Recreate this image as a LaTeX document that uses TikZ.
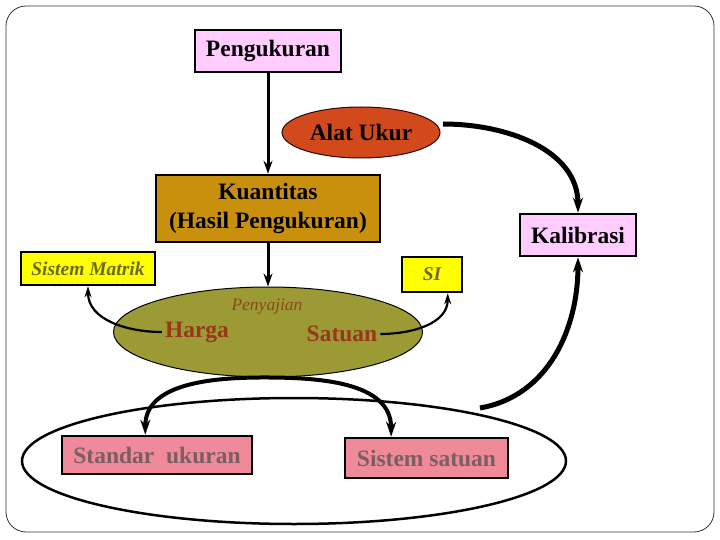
\documentclass[tikz,border=0pt]{standalone}
\usepackage{fontspec}
\setmainfont{Liberation Serif}
\usetikzlibrary{arrows.meta, shapes.geometric}

\definecolor{rosa}{HTML}{FFCCFF}
\definecolor{alatrot}{HTML}{D24A1C}
\definecolor{gold}{HTML}{C8900C}
\definecolor{oliv}{HTML}{9C9A34}
\definecolor{gelb}{HTML}{FFFF00}
\definecolor{lachs}{HTML}{EE8A99}
\definecolor{braun}{HTML}{96381C}
\definecolor{hellbraun}{HTML}{8B4A1E}
\definecolor{olivtext}{HTML}{6B6B1E}
\definecolor{graurot}{HTML}{7B5E60}

\begin{document}
\begin{tikzpicture}[x=1pt, y=-1pt,
    kasten/.style={draw=black, line width=2.5pt, inner sep=0pt,
        font=\fontsize{23.5}{29}\selectfont\bfseries},
    pfeil/.style={line width=3pt, -{Stealth[length=13pt, width=9pt]}},
    pfeilfett/.style={line width=5pt, -{Stealth[length=15pt, width=10pt]}},
    pfeilduenn/.style={line width=2.2pt, -{Stealth[length=11pt, width=7pt]}}]

    % 1. Rahmen und Bildgrenze
    \useasboundingbox (0,0) rectangle (720,540);
    \draw[black!80, line width=0.8pt, rounded corners=20pt] (6,6) rectangle (714,532);

    % 2. Grosse Ellipse unten
    \node[ellipse, draw, line width=2.5pt, minimum width=544, minimum height=126] (gruppe) at (294,461) {};

    % 3. Kaesten und Ellipsen
    \node[kasten, fill=rosa, minimum width=146, minimum height=42] (peng) at (268,51) {Pengukuran};
    \node[ellipse, draw=black!80!red, line width=1pt, fill=alatrot, minimum width=158, minimum height=51,
        font=\fontsize{23.5}{29}\selectfont\bfseries] (alat) at (361,132.5) {Alat Ukur};
    \node[kasten, fill=gold, minimum width=224, minimum height=67, align=center] (kuant) at (268,208.5)
        {Kuantitas\\(Hasil Pengukuran)};
    \node[kasten, fill=rosa, minimum width=116, minimum height=42] (kal) at (578,235) {Kalibrasi};
    \node[kasten, fill=gelb, minimum width=134, minimum height=33, text=olivtext,
        font=\fontsize{19.5}{22}\selectfont\bfseries\itshape] (sm) at (88,268.5) {Sistem Matrik};
    \node[kasten, fill=gelb, minimum width=60, minimum height=35, text=olivtext,
        font=\fontsize{19.5}{22}\selectfont\bfseries\itshape] (si) at (432,274.5) {SI};
    \node[ellipse, draw, line width=1pt, fill=oliv, minimum width=309, minimum height=90] (olive) at (268,332) {};
    \node[kasten, fill=lachs, minimum width=190, minimum height=38, text=graurot,
        font=\fontsize{23.5}{28}\selectfont\bfseries] (std) at (157,455) {Standar\ \ ukuran};
    \node[kasten, fill=lachs, minimum width=163, minimum height=40, text=graurot,
        font=\fontsize{23.5}{28}\selectfont\bfseries] (ss) at (426.5,458) {Sistem satuan};

    % 4. Texte in der Ellipse
    \node[text=hellbraun, font=\fontsize{17.5}{20}\selectfont\itshape] (penyajian) at (267,307) {Penyajian};
    \node[text=braun, font=\fontsize{23.5}{28}\selectfont\bfseries, inner sep=3pt] (harga) at (197,332) {Harga};
    \node[text=braun, font=\fontsize{23.5}{28}\selectfont\bfseries, inner sep=3pt] (satuan) at (342,334) {Satuan};

    % 5. Pfeile
    \coordinate (ka) at (443,124);
    \coordinate (kb) at (480,408);
    \draw[pfeil] (peng.south) -- (kuant.north);
    \draw[pfeil] (kuant.south) -- (olive.north);
    \draw[pfeilfett] (ka) to[out=0, in=90] (kal.north);
    \draw[pfeilfett] (kb) to[out=10, in=-90] (kal.south);
    \draw[pfeilduenn] (harga.west) to[out=180, in=-90] (sm.south);
    \draw[pfeilduenn] (satuan.east) to[out=0, in=-90] (si.-50);
    \draw[pfeilfett, line width=4pt] (olive.-95) to[out=180, in=90] (std.120);
    \draw[pfeilfett, line width=4pt] (olive.-95) to[out=0, in=90] (ss.149);

\end{tikzpicture}
\end{document}
